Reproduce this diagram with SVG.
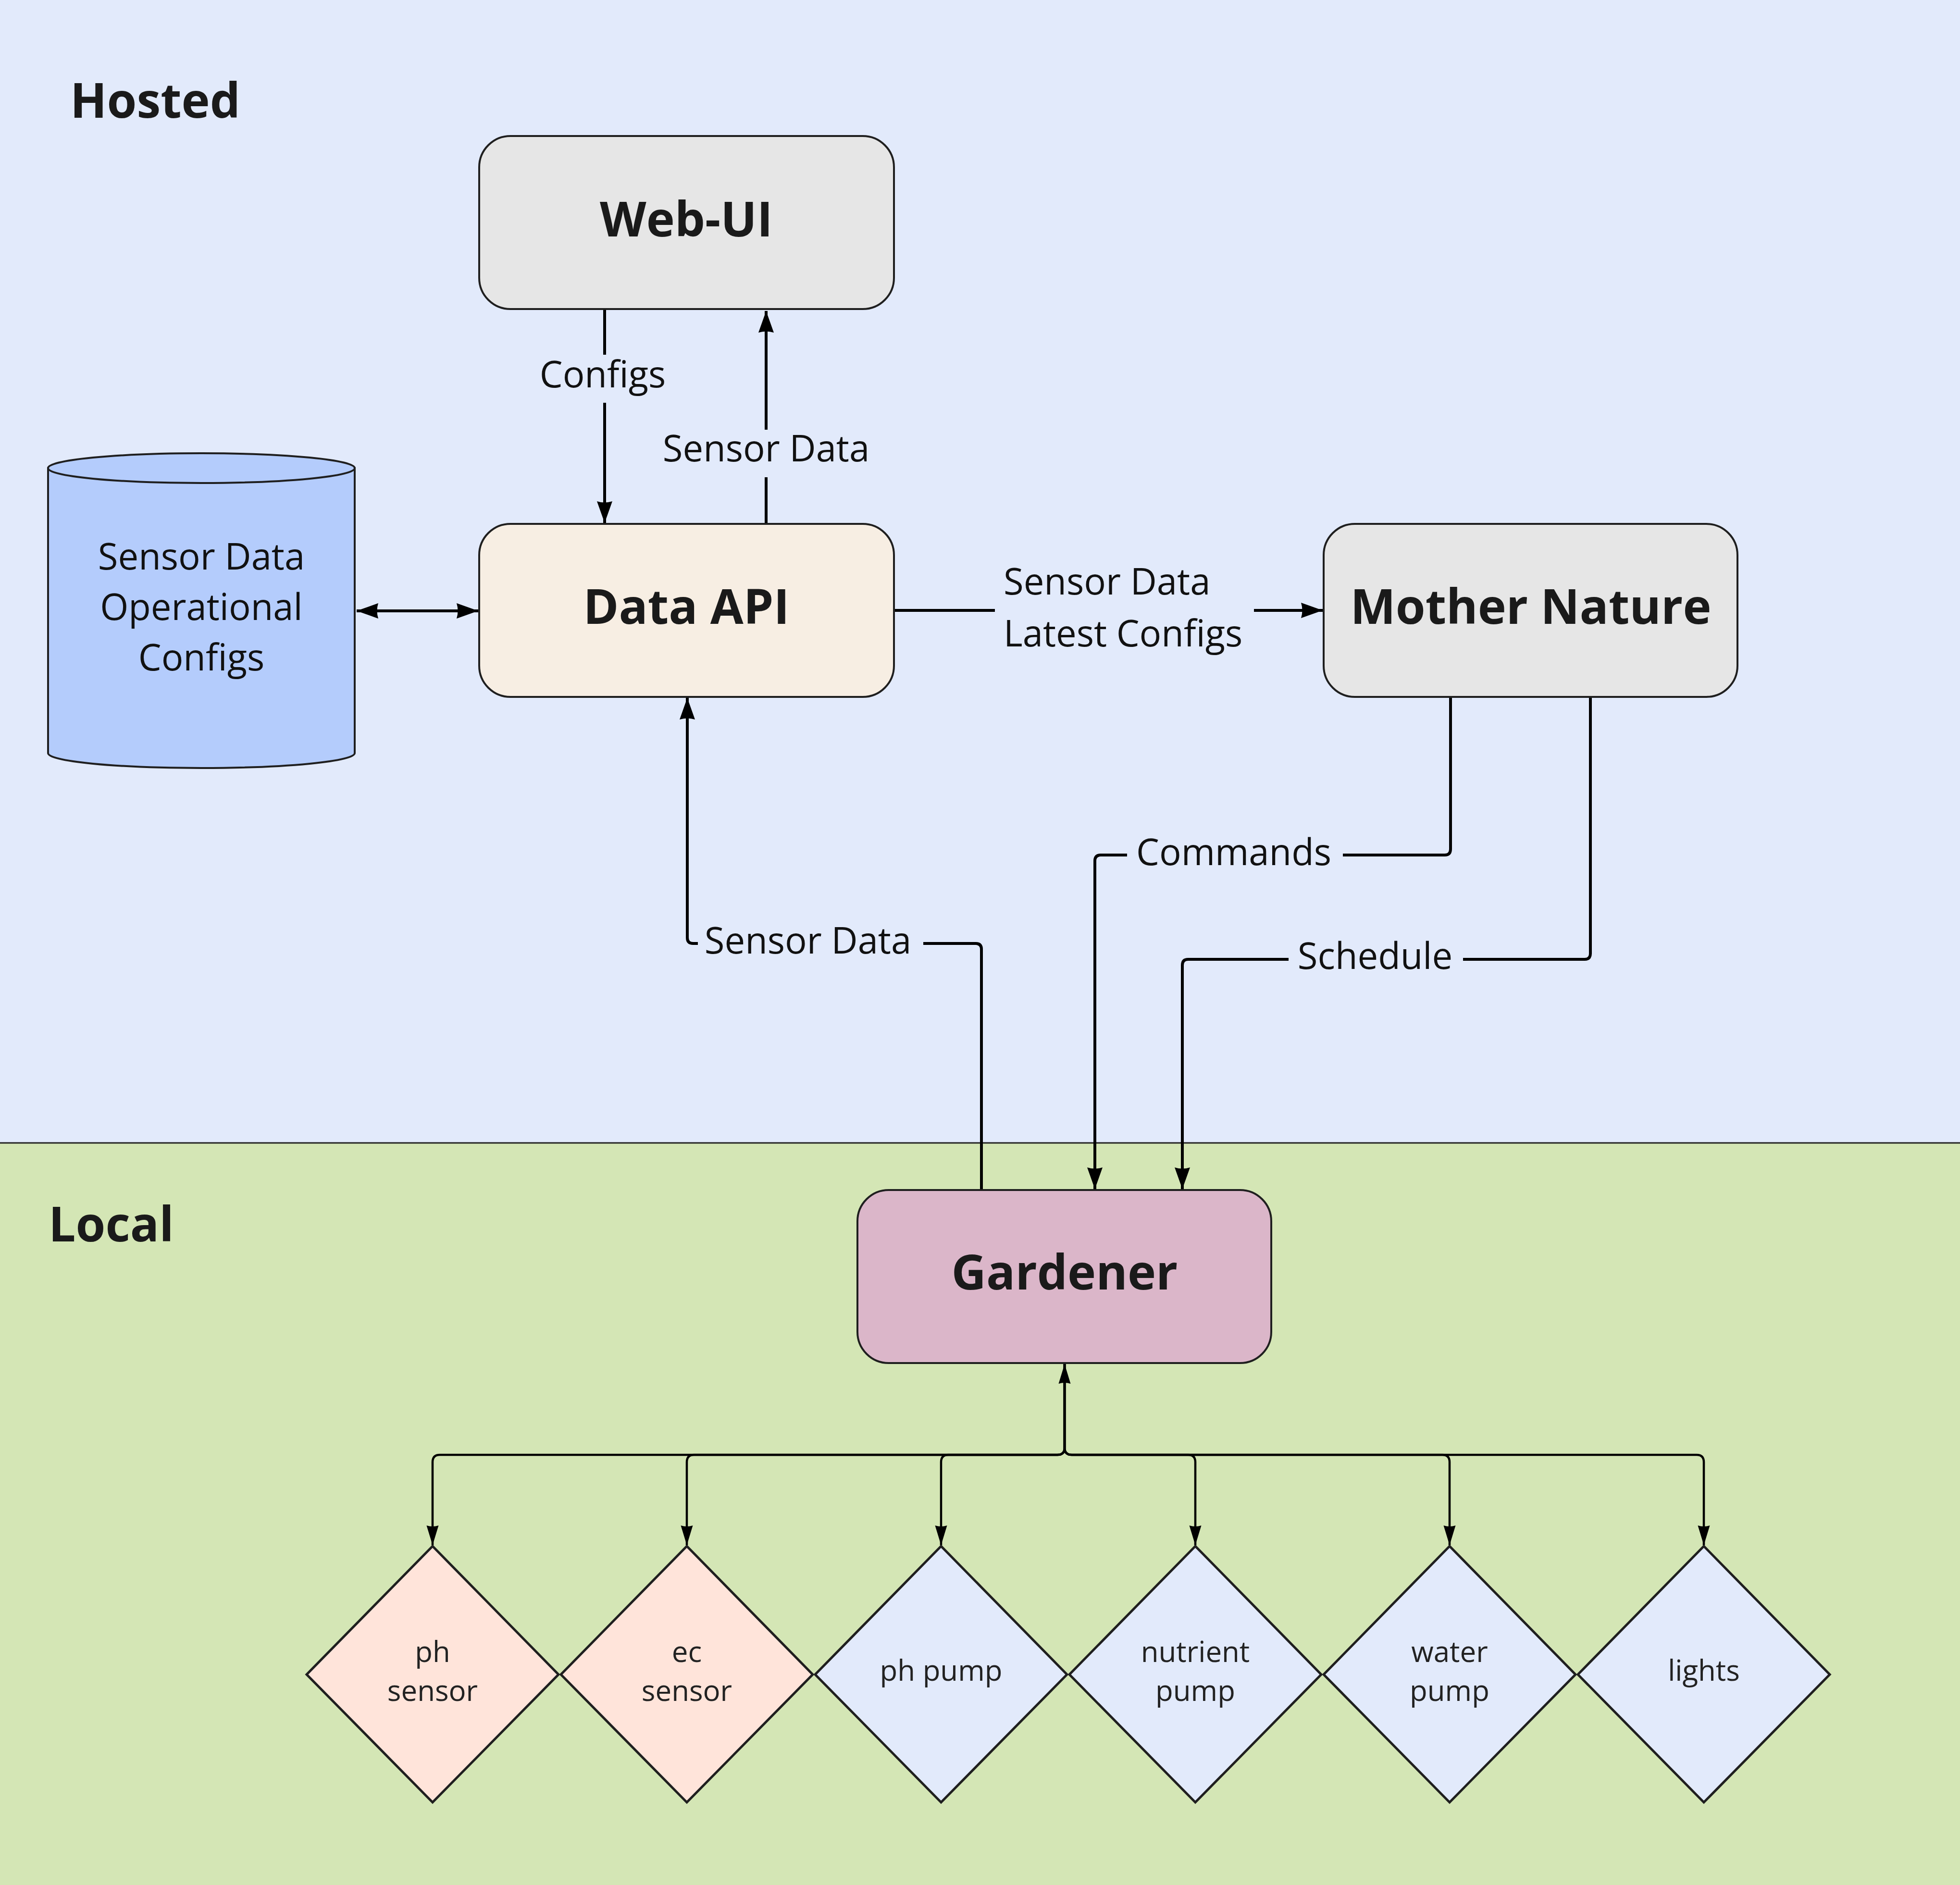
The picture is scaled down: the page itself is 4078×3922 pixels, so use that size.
<svg xmlns="http://www.w3.org/2000/svg" width="4078" height="3922" viewBox="0 0 4078 3922">
<defs>
<style>
.bg-h{fill:#E2EAFB}
.bg-l{fill:#D4E6B5}
.box{stroke:#1f1f1f;stroke-width:4}
.title{font-family:"Open Sans","Noto Sans",sans-serif;font-weight:700;font-size:100px;fill:#1a1a1a;text-anchor:middle}
.zone{font-family:"Open Sans","Noto Sans",sans-serif;font-weight:700;font-size:100px;fill:#1a1a1a}
.lbl{font-family:"Open Sans","Noto Sans",sans-serif;font-size:76px;fill:#111}
.mid{text-anchor:middle}
.dtxt{font-family:"Open Sans","Noto Sans",sans-serif;font-size:60px;fill:#222;text-anchor:middle}
.edge{fill:none;stroke:#000;stroke-width:6}
.bus{fill:none;stroke:#000;stroke-width:4.5}
.dia{stroke:#1f1f1f;stroke-width:5}
</style>
<marker id="arr" markerUnits="userSpaceOnUse" markerWidth="48" markerHeight="36" viewBox="0 0 48 36" refX="46" refY="18" orient="auto-start-reverse">
<path d="M1,2 L46,18 L1,34 Q6,18 1,2 Z" fill="#000"/>
</marker>
<marker id="arr2" markerUnits="userSpaceOnUse" markerWidth="44" markerHeight="30" viewBox="0 0 44 30" refX="42" refY="15" orient="auto-start-reverse">
<path d="M1,2.5 L42,15 L1,27.5 Q5,15 1,2.5 Z" fill="#000"/>
</marker>
</defs>

<g id="backgrounds">
<rect class="bg-h" x="0" y="0" width="4078" height="2378"/>
<rect class="bg-l" x="0" y="2378" width="4078" height="1544"/>
<line x1="0" y1="2378" x2="4078" y2="2378" stroke="#222" stroke-width="3"/>
<text class="zone" x="146" y="245">Hosted</text>
<text class="zone" x="101" y="2583">Local</text>
</g>

<g id="connectors">
<path class="edge" d="M1258,645 V738"/>
<path class="edge" d="M1258,838 V1088" marker-end="url(#arr)"/>
<text class="lbl mid" x="1254" y="806">Configs</text>

<path class="edge" d="M1594,1090 V993"/>
<path class="edge" d="M1594,894 V647" marker-end="url(#arr)"/>
<text class="lbl mid" x="1594" y="960">Sensor Data</text>

<path class="edge" d="M742,1271 H995" marker-start="url(#arr)" marker-end="url(#arr)"/>

<path class="edge" d="M1862,1270 H2070"/>
<path class="edge" d="M2609,1270 H2752" marker-end="url(#arr)"/>
<text class="lbl" x="2088" y="1237">Sensor Data</text>
<text class="lbl" x="2088" y="1345">Latest Configs</text>

<path class="edge" d="M2042,2474 V1975 Q2042,1963 2030,1963 H1921"/>
<path class="edge" d="M1452,1963 H1442 Q1430,1963 1430,1951 V1452" marker-end="url(#arr)"/>
<text class="lbl mid" x="1681" y="1984">Sensor Data</text>

<path class="edge" d="M3018,1452 V1767 Q3018,1779 3006,1779 H2794"/>
<path class="edge" d="M2345,1779 H2290 Q2278,1779 2278,1791 V2474" marker-end="url(#arr)"/>
<text class="lbl mid" x="2567" y="1800">Commands</text>

<path class="edge" d="M3309,1452 V1984 Q3309,1996 3297,1996 H3044"/>
<path class="edge" d="M2681,1996 H2472 Q2460,1996 2460,2008 V2474" marker-end="url(#arr)"/>
<text class="lbl mid" x="2861" y="2016">Schedule</text>

<path class="bus" d="M2215,2838 V3012 Q2215,3027 2200,3027 H915 Q900,3027 900,3042 V3215" marker-start="url(#arr2)" marker-end="url(#arr2)"/>
<path class="bus" d="M2215,2838 V3012 Q2215,3027 2200,3027 H1444 Q1429,3027 1429,3042 V3215" marker-end="url(#arr2)"/>
<path class="bus" d="M2215,2838 V3012 Q2215,3027 2200,3027 H1973 Q1958,3027 1958,3042 V3215" marker-end="url(#arr2)"/>
<path class="bus" d="M2215,2838 V3012 Q2215,3027 2230,3027 H2472 Q2487,3027 2487,3042 V3215" marker-end="url(#arr2)"/>
<path class="bus" d="M2215,2838 V3012 Q2215,3027 2230,3027 H3001 Q3016,3027 3016,3042 V3215" marker-end="url(#arr2)"/>
<path class="bus" d="M2215,2838 V3012 Q2215,3027 2230,3027 H3530 Q3545,3027 3545,3042 V3215" marker-end="url(#arr2)"/>
</g>

<g id="web-ui">
<rect class="box" x="997" y="283" width="863" height="360" rx="65" fill="#E6E6E6"/>
<text class="title" x="1428" y="492">Web-UI</text>
</g>

<g id="data-api">
<rect class="box" x="997" y="1090" width="863" height="360" rx="65" fill="#F7EEE3"/>
<text class="title" x="1428" y="1298">Data API</text>
</g>

<g id="mother-nature">
<rect class="box" x="2754" y="1090" width="861" height="360" rx="65" fill="#E6E6E6"/>
<text class="title" x="3185" y="1298">Mother Nature</text>
</g>

<g id="database">
<path class="box" d="M100,974 V1567 A319,31 0 0 0 738,1567 V974 Z" fill="#B4CCFC"/>
<ellipse class="box" cx="419" cy="974" rx="319" ry="31" fill="#B4CCFC"/>
<text class="lbl mid" x="419" y="1185">Sensor Data</text>
<text class="lbl mid" x="419" y="1290">Operational</text>
<text class="lbl mid" x="419" y="1395">Configs</text>
</g>

<g id="gardener">
<rect class="box" x="1784" y="2476" width="861" height="360" rx="65" fill="#DBB6C9"/>
<text class="title" x="2215" y="2683">Gardener</text>
</g>

<g id="ph-sensor">
<polygon class="dia" points="900,3217 1162,3484 900,3750 638,3484" fill="#FFE4DA"/>
<text class="dtxt" x="900" y="3458">ph</text>
<text class="dtxt" x="900" y="3539">sensor</text>
</g>
<g id="ec-sensor">
<polygon class="dia" points="1429,3217 1691,3484 1429,3750 1167,3484" fill="#FFE4DA"/>
<text class="dtxt" x="1429" y="3458">ec</text>
<text class="dtxt" x="1429" y="3539">sensor</text>
</g>
<g id="ph-pump">
<polygon class="dia" points="1958,3217 2220,3484 1958,3750 1696,3484" fill="#E2EAFB"/>
<text class="dtxt" x="1958" y="3497">ph pump</text>
</g>
<g id="nutrient-pump">
<polygon class="dia" points="2487,3217 2749,3484 2487,3750 2225,3484" fill="#E2EAFB"/>
<text class="dtxt" x="2487" y="3458">nutrient</text>
<text class="dtxt" x="2487" y="3539">pump</text>
</g>
<g id="water-pump">
<polygon class="dia" points="3016,3217 3278,3484 3016,3750 2754,3484" fill="#E2EAFB"/>
<text class="dtxt" x="3016" y="3458">water</text>
<text class="dtxt" x="3016" y="3539">pump</text>
</g>
<g id="lights">
<polygon class="dia" points="3545,3217 3807,3484 3545,3750 3283,3484" fill="#E2EAFB"/>
<text class="dtxt" x="3545" y="3497">lights</text>
</g>
</svg>
